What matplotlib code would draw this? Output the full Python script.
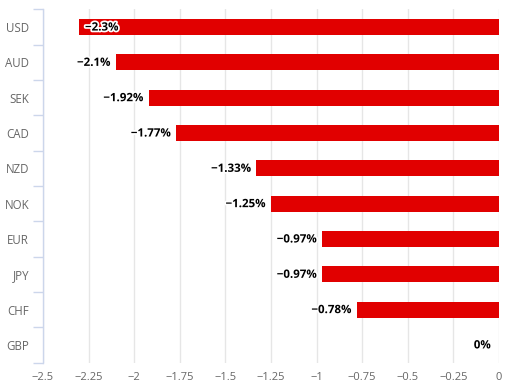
import matplotlib
matplotlib.use("Agg")
import matplotlib.pyplot as plt
import matplotlib.patheffects as pe

categories = ["USD", "AUD", "SEK", "CAD", "NZD", "NOK", "EUR", "JPY", "CHF", "GBP"]
values = [-2.3, -2.1, -1.92, -1.77, -1.33, -1.25, -0.97, -0.97, -0.78, 0]
labels = ["\u22122.3%", "\u22122.1%", "\u22121.92%", "\u22121.77%", "\u22121.33%",
          "\u22121.25%", "\u22120.97%", "\u22120.97%", "\u22120.78%", "0%"]
xticks = [-2.5, -2.25, -2, -1.75, -1.5, -1.25, -1, -0.75, -0.5, -0.25, 0]
xticklabels = ["\u22122.5", "\u22122.25", "\u22122", "\u22121.75", "\u22121.5", "\u22121.25",
               "\u22121", "\u22120.75", "\u22120.5", "\u22120.25", "0"]

plt.rcParams['font.family'] = ['Open Sans', 'DejaVu Sans']

fig = plt.figure(figsize=(5.15, 3.9), dpi=100)
ax = fig.add_axes([43/515, 27.4/390, 456/515, 353.2/390])

n = len(categories)
ys = list(range(n))
ax.barh(ys, values, height=0.45, color="#e10000", zorder=3)

ax.set_xlim(-2.5, 0)
ax.set_ylim(n - 0.5, -0.5)
ax.set_xticks(xticks)
ax.set_xticklabels(xticklabels, fontsize=8, color="#666666")
ax.set_yticks(ys)
ax.set_yticklabels(categories, fontsize=8.3, color="#666666")
ax.tick_params(axis='y', length=0, pad=10)
ax.tick_params(axis='x', length=0, pad=7)
ax.set_yticks([i - 0.5 for i in range(n + 1)], minor=True)
ax.tick_params(axis='y', which='minor', length=7, color="#ccd6eb", width=1)
ax.grid(axis='x', color="#e6e6e6", linewidth=1, zorder=0)
for s in ["top", "right", "bottom"]:
    ax.spines[s].set_visible(False)
ax.spines["left"].set_color("#ccd6eb")
ax.spines["left"].set_linewidth(1)

outline = [pe.withStroke(linewidth=2.5, foreground="white")]
for y, v, lab in zip(ys, values, labels):
    if v < -2.2:
        ax.annotate(lab, (v, y), xytext=(4, 0), textcoords="offset points",
                    ha="left", va="center", fontsize=8.3, fontweight="bold",
                    color="black", path_effects=outline, zorder=5)
    else:
        ax.annotate(lab, (v, y), xytext=(-4 if v != 0 else -6, 0), textcoords="offset points",
                    ha="right", va="center", fontsize=8.3, fontweight="bold",
                    color="black", path_effects=outline, zorder=5)

fig.savefig("out.png", dpi=100)
